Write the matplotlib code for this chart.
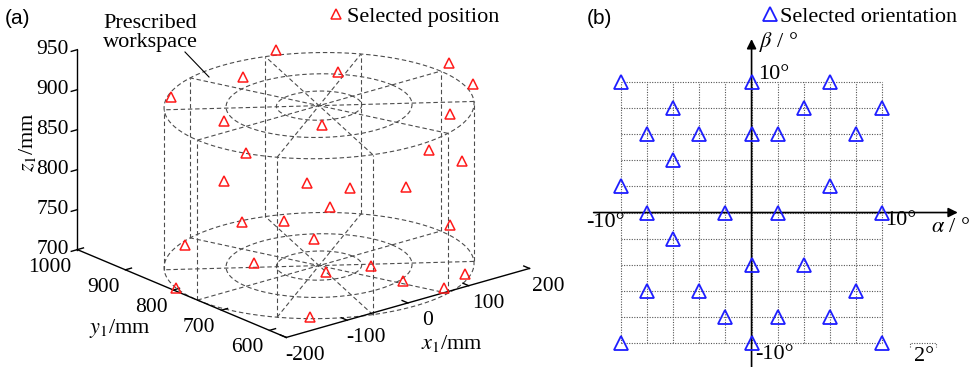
import numpy as np
import matplotlib
matplotlib.use("Agg")
import matplotlib.pyplot as plt
from matplotlib.lines import Line2D

plt.rcParams['font.family'] = ['Liberation Serif', 'DejaVu Serif']
plt.rcParams['mathtext.fontset'] = 'stix'

# (a) selected positions, mm
pos_x = [69, 12, 116, 190, 165, -124, -120, -24, 166, -108, 97, 161, -64, -25, 63,
         82, 35, -48, 14, 168, -120, 38, -76, 49, -27, -183, 47, 142, 69, -130]
pos_y = [928, 923, 857, 720, 638, 901, 796, 714, 688, 766, 644, 657, 866, 743, 766,
         673, 771, 850, 840, 691, 877, 808, 790, 704, 702, 817, 634, 625, 578, 605]
pos_z = [910, 890, 890, 920, 920, 900, 895, 890, 870, 860, 850, 820, 790, 810, 780,
         800, 760, 740, 730, 730, 720, 710, 710, 700, 710, 695, 700, 690, 700, 700]

# prescribed workspace (cylinder)
ws_cx, ws_cy = 0, 750
ws_radii = [200, 120, 55]
ws_levels = [700, 900]
ws_spokes = 10

x_ticks = [-200, -100, 0, 100, 200]
y_ticks = [600, 700, 800, 900, 1000]
z_ticks = [700, 750, 800, 850, 900, 950]
y_min = 565

# (b) selected orientations, deg
ori_alpha = [-10, 0, 6, -6, 4, 10, -8, -4, 0, 2, 8, -6, -10, 6, -8, -2, 2, 10,
             -6, 0, 4, -8, -4, 8, -2, 2, 6, -10, 0, 10]
ori_beta = [10, 10, 10, 8, 8, 8, 6, 6, 6, 6, 6, 4, 2, 2, 0, 0, 0, 0,
            -2, -4, -4, -6, -6, -6, -8, -8, -8, -10, -10, -10]
grid_vals = np.arange(-10, 11, 2)

FS = 16
TFS = 15.5

fig = plt.figure(figsize=(9.71, 3.67), dpi=100)

# ---------------- (a) ----------------
ax = fig.add_axes([0.0174, 0.0531, 0.58, 1.0], projection='3d')
ax.set_proj_type('ortho')
ax.view_init(elev=20.2, azim=-129.4)
ax.set_xlim(-200, 200)
ax.set_ylim(y_min, 1000)
ax.set_zlim(700, 950)
ax.set_box_aspect((331, 346, 224), zoom=1.33)
ax.set_axis_off()

dash = dict(color='#4d4d4d', lw=0.8, dashes=(4, 2.5), clip_on=False)
t = np.linspace(0, 2 * np.pi, 200)
for zl in ws_levels:
    for r in ws_radii:
        ax.plot(ws_cx + r * np.cos(t), ws_cy + r * np.sin(t), zl, **dash)
    for k in range(ws_spokes // 2):
        a = np.deg2rad(36 * k)
        R = ws_radii[0]
        ax.plot([ws_cx - R * np.cos(a), ws_cx + R * np.cos(a)],
                [ws_cy - R * np.sin(a), ws_cy + R * np.sin(a)], [zl, zl], **dash)
for k in range(ws_spokes):
    a = np.deg2rad(36 * k)
    R = ws_radii[0]
    ax.plot([ws_cx + R * np.cos(a)] * 2, [ws_cy + R * np.sin(a)] * 2, ws_levels, **dash)

# axis lines like matlab
solid = dict(color='k', lw=1, clip_on=False)
ax.plot([-200, -200], [1000, 1000], [700, 950], **solid)
ax.plot([-200, -200], [1000, y_min], [700, 700], **solid)
ax.plot([-200, 200], [y_min, y_min], [700, 700], **solid)
for v in x_ticks:
    ax.plot([v, v], [y_min, y_min + 12], [700, 700], **solid)
    ax.text(v, y_min - 40, 700, str(v), ha='center', va='top', fontsize=TFS)
for v in y_ticks:
    ax.plot([-200, -190], [v, v], [700, 700], **solid)
    ax.text(-210, v, 692, str(v), ha='right', va='top', fontsize=TFS)
for v in z_ticks:
    ax.plot([-200, -210], [1000, 1000], [v, v], **solid)
    ax.text(-208, 1008, v, str(v), ha='right', va='center', fontsize=TFS)

pts, = ax.plot(pos_x, pos_y, pos_z, ls='none', marker='^', ms=7, mfc='none',
               mec='#ff1a1a', mew=1.1, clip_on=False)
ax.legend([pts], ['Selected position'], loc='center left',
          bbox_to_anchor=(329 / 971, 1 - 17 / 367), bbox_transform=fig.transFigure,
          frameon=False, fontsize=FS, handlelength=0.6, handletextpad=0.2,
          borderpad=0, borderaxespad=0)

fig.text(27 / 971, 1 - 142 / 367, r'$z_1$/mm', rotation=90, ha='center', va='center', fontsize=FS)
fig.text(120 / 971, 1 - 328 / 367, r'$y_1$/mm', ha='center', va='center', fontsize=FS)
fig.text(452 / 971, 1 - 343 / 367, r'$x_1$/mm', ha='center', va='center', fontsize=FS)
fig.text(150 / 971, 1 - 33 / 367, 'Prescribed\nworkspace', ha='center', va='center',
         fontsize=FS, linespacing=0.95)
fig.add_artist(Line2D([185 / 971, 209 / 971], [1 - 52 / 367, 1 - 77 / 367], color='k', lw=0.8))
fig.text(5 / 971, 1 - 18 / 367, '(a)', family='Liberation Sans', fontsize=15, va='center')

# ---------------- (b) ----------------
ax2 = fig.add_axes([0.6033, -0.002, 0.3952, 0.9346])
ax2.set_xlim(-12.7, 16.7)
ax2.set_ylim(-11.9, 14.4)
ax2.axis('off')

gs = dict(color='#555555', lw=0.8, ls=(0, (1, 1.3)))
for g in grid_vals:
    ax2.plot([g, g], [-10, 10], **gs)
    ax2.plot([-10, 10], [g, g], **gs)

arr = dict(arrowstyle='-|>', color='k', lw=1.2, mutation_scale=14, shrinkA=0, shrinkB=0)
ax2.annotate('', xy=(15.8, 0), xytext=(-12.1, 0), arrowprops=arr)
ax2.annotate('', xy=(0, 13.3), xytext=(0, -12.5), arrowprops=arr)

ori, = ax2.plot(ori_alpha, ori_beta, ls='none', marker='^', ms=10, mfc='none',
                mec='#1e1eff', mew=1.3, zorder=5)
ax2.legend([ori], ['Selected orientation'], loc='center left',
           bbox_to_anchor=(763 / 971, 1 - 17 / 367), bbox_transform=fig.transFigure,
           frameon=False, fontsize=FS, handlelength=0.6, handletextpad=0.15,
           borderpad=0, borderaxespad=0)

ax2.text(-11.2, -0.8, '-10°', ha='center', va='center', fontsize=FS)
ax2.text(11.4, -0.6, '10°', ha='center', va='center', fontsize=FS)
ax2.text(15.26, -1.15, r'$\alpha$ / °', ha='center', va='center', fontsize=FS)
ax2.text(2.1, 13.07, r'$\beta$ / °', ha='center', va='center', fontsize=FS)
ax2.text(1.72, 10.56, '10°', ha='center', va='center', fontsize=FS)
ax2.text(1.72, -10.92, '-10°', ha='center', va='center', fontsize=FS)
ax2.plot([12.1, 12.1, 14.1, 14.1], [-10.3, -10, -10, -10.3], **gs)
ax2.text(13.2, -11.07, '2°', ha='center', va='center', fontsize=FS)
fig.text(587 / 971, 1 - 18 / 367, '(b)', family='Liberation Sans', fontsize=15, va='center')

fig.savefig('out.png', dpi=100)
